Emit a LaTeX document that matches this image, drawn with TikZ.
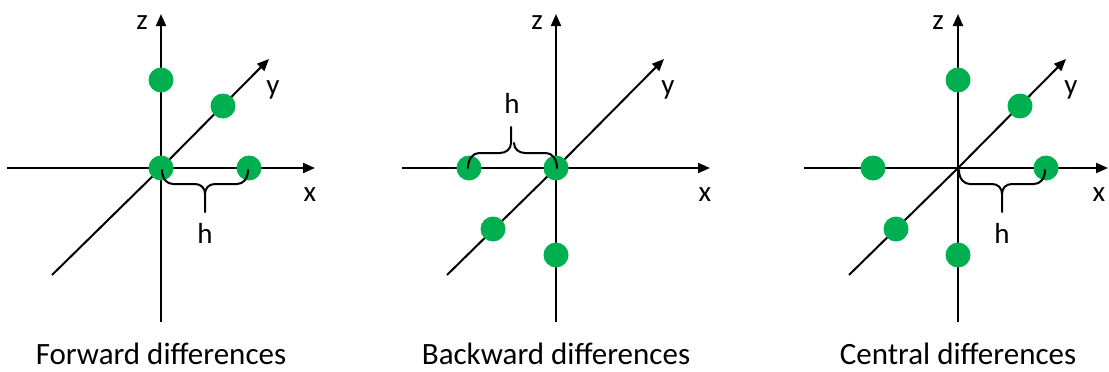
\documentclass[tikz,border=0pt]{standalone}
\usepackage{fontspec}
\setmainfont{Carlito}
\usetikzlibrary{arrows.meta}
\definecolor{dotgreen}{RGB}{0,176,80}
\begin{document}
\begin{tikzpicture}[x=1pt,y=-1pt,
  axis/.style={line width=2pt,-{Triangle[length=12pt,width=10pt]}},
  plainax/.style={line width=2pt},
  pt/.style={circle,fill=dotgreen,minimum size=25pt,inner sep=0pt},
  lbl/.style={font=\fontsize{29}{34}\selectfont,anchor=base,inner sep=0pt},
  captext/.style={font=\fontsize{31}{36}\selectfont,anchor=base,inner sep=0pt,text depth=0pt},
  brc/.style={line width=2pt,line cap=round,line join=round}]
\useasboundingbox (0,0) rectangle (1109,372);
\clip (0,0) rectangle (1109,372);

% ---------- Forward ----------
\begin{scope}[shift={(161,168)}]
  \coordinate (fzb) at (0,154); \coordinate (fzt) at (0,-154);
  \coordinate (fxl) at (-154,0); \coordinate (fxr) at (154,0);
  \coordinate (fyb) at (-109,107); \coordinate (fyt) at (108,-109);
  \draw[plainax] (fyb) -- (0,0);
  \draw[axis] (fzb) -- (fzt);
  \draw[axis] (fxl) -- (fxr);
  \draw[axis] (0,0) -- (fyt);
  \node[pt] (fo) at (0,0) {};
  \node[pt] (fz) at (0,-88) {};
  \node[pt] (fy) at (62,-62) {};
  \node[pt] (fx) at (88,0) {};
  \draw[brc] (fo.center) ++(1,2) .. controls +(0,9) and +(-6,0) .. ++(11,14)
     -- ++(22,0) .. controls +(6,0) and +(0,-6) .. ++(10,10) -- ++(0,18);
  \draw[brc] (fx.center) ++(-1,2) .. controls +(0,9) and +(6,0) .. ++(-11,14)
     -- ++(-22,0) .. controls +(-6,0) and +(0,-6) .. ++(-10,10);
  \node[lbl] (fzl) at (-19,-139) {z};
  \node[lbl] (fyl) at (112,-74) {y};
  \node[lbl] (fxlb) at (149,33) {x};
  \node[lbl] (fh) at (44,75) {h};
  \node[captext] (fcap) at (0,196) {Forward differences};
\end{scope}

% ---------- Backward ----------
\begin{scope}[shift={(556,168)}]
  \coordinate (bzb) at (0,154); \coordinate (bzt) at (0,-154);
  \coordinate (bxl) at (-154,0); \coordinate (bxr) at (154,0);
  \coordinate (byb) at (-109,107); \coordinate (byt) at (108,-109);
  \draw[plainax] (byb) -- (0,0);
  \draw[axis] (bzb) -- (bzt);
  \draw[axis] (bxl) -- (bxr);
  \draw[axis] (0,0) -- (byt);
  \node[pt] (bo) at (0,0) {};
  \node[pt] (bx) at (-87,0) {};
  \node[pt] (by) at (-63,61) {};
  \node[pt] (bz) at (0,87) {};
  \draw[brc] (bx.center) ++(-1,0) .. controls +(0,-9) and +(-6,0) .. ++(11,-15)
     -- ++(21,0) .. controls +(6,0) and +(0,6) .. ++(11,-10) -- ++(0,-16);
  \draw[brc] (bo.center) ++(1,0) .. controls +(0,-9) and +(6,0) .. ++(-11,-15)
     -- ++(-21,0) .. controls +(-6,0) and +(0,6) .. ++(-11,-10);
  \node[lbl] (bzl) at (-19,-139) {z};
  \node[lbl] (byl) at (112,-74) {y};
  \node[lbl] (bxlb) at (149,33) {x};
  \node[lbl] (bh) at (-44,-55) {h};
  \node[captext] (bcap) at (0,196) {Backward differences};
\end{scope}

% ---------- Central ----------
\begin{scope}[shift={(958,168)}]
  \coordinate (czb) at (0,154); \coordinate (czt) at (0,-154);
  \coordinate (cxl) at (-154,0); \coordinate (cxr) at (150,0);
  \coordinate (cyb) at (-109,107); \coordinate (cyt) at (108,-109);
  \draw[plainax] (cyb) -- (0,0);
  \draw[axis] (czb) -- (czt);
  \draw[axis] (cxl) -- (cxr);
  \draw[axis] (0,0) -- (cyt);
  \coordinate (co) at (0,0);
  \node[pt] (cz) at (0,-88) {};
  \node[pt] (cy) at (62,-62) {};
  \node[pt] (cxp) at (88,0) {};
  \node[pt] (cxm) at (-85,0) {};
  \node[pt] (cym) at (-62,61) {};
  \node[pt] (czm) at (0,87) {};
  \draw[brc] (co) ++(1,2) .. controls +(0,9) and +(-6,0) .. ++(11,14)
     -- ++(22,0) .. controls +(6,0) and +(0,-6) .. ++(10,10) -- ++(0,18);
  \draw[brc] (cxp.center) ++(-1,2) .. controls +(0,9) and +(6,0) .. ++(-11,14)
     -- ++(-22,0) .. controls +(-6,0) and +(0,-6) .. ++(-10,10);
  \node[lbl] (czl) at (-20,-139) {z};
  \node[lbl] (cyl) at (113,-74) {y};
  \node[lbl] (cxlb) at (141,33) {x};
  \node[lbl] (ch) at (44,75) {h};
  \node[captext] (ccap) at (0,196) {Central differences};
\end{scope}
\end{tikzpicture}
\end{document}
